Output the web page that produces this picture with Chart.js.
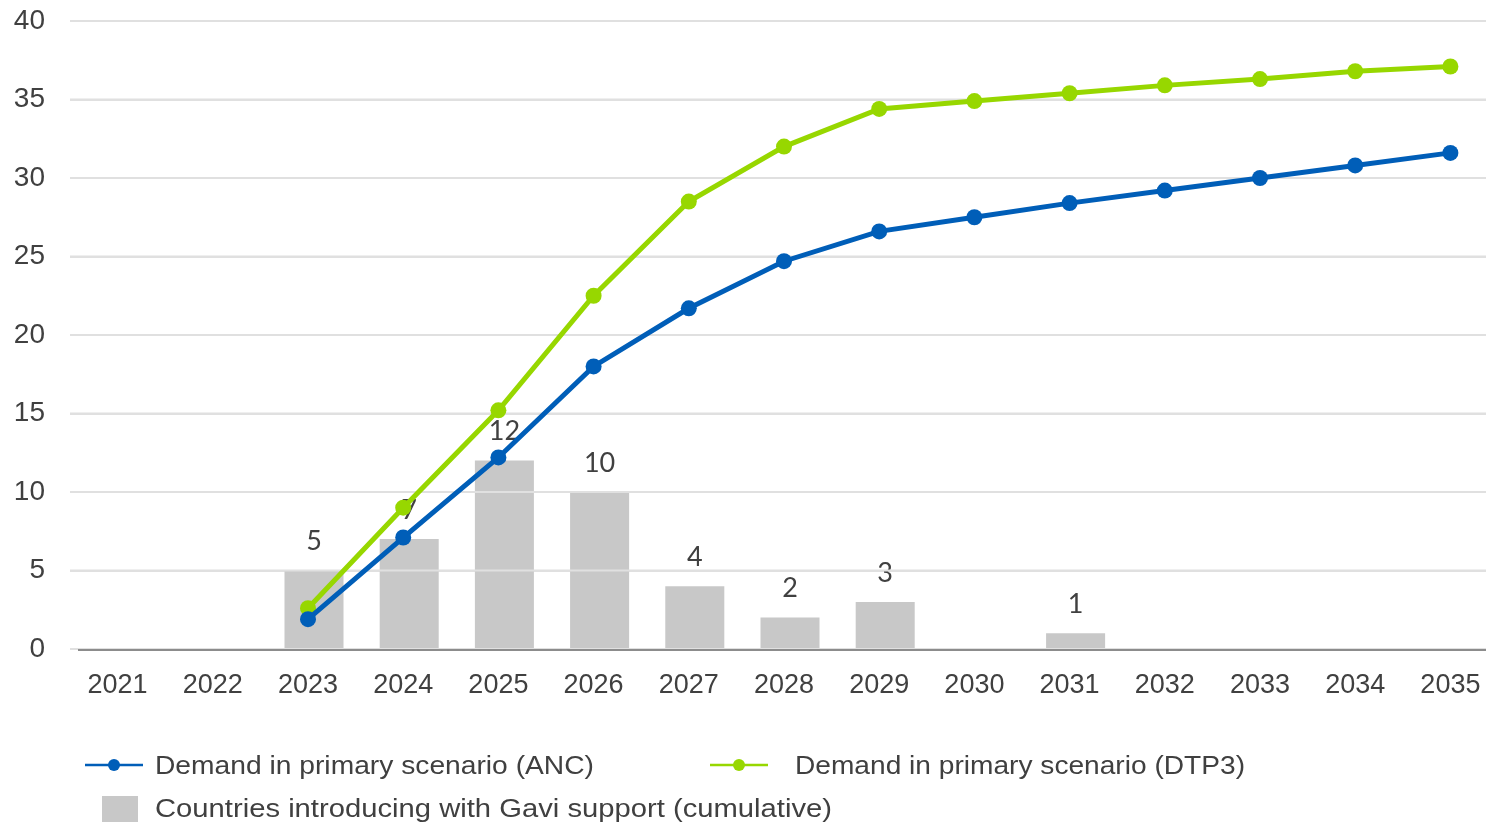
<!DOCTYPE html>
<html>
<head>
<meta charset="utf-8">
<script src="https://cdn.jsdelivr.net/npm/chart.js@4.4.1/dist/chart.umd.min.js"></script>
<style>
  html, body { margin: 0; padding: 0; background: #ffffff; overflow: hidden; }
  #wrap { width: 1486px; height: 828px; overflow: hidden; }
  canvas { display: block; }
</style>
</head>
<body>
<div id="wrap"><canvas id="c" width="1512" height="828"></canvas></div>
<script>
// Years on the horizontal axis
const years = ['2021', '2022', '2023', '2024', '2025', '2026', '2027', '2028',
               '2029', '2030', '2031', '2032', '2033', '2034', '2035'];

// Demand in primary scenario (ANC)
const demandANC = [null, null, 1.9, 7.1, 12.2, 18.0, 21.7, 24.7,
                   26.6, 27.5, 28.4, 29.2, 30.0, 30.8, 31.6];

// Demand in primary scenario (DTP3)
const demandDTP3 = [null, null, 2.6, 9.0, 15.2, 22.5, 28.5, 32.0,
                    34.4, 34.9, 35.4, 35.9, 36.3, 36.8, 37.1];

// Countries introducing with Gavi support (cumulative)
const countries = [null, null, 5, 7, 12, 10, 4, 2, 3, null, 1, null, null, null, null];

// Value axis ticks
const yTicks = [0, 5, 10, 15, 20, 25, 30, 35, 40];

const BLUE = '#005EB8';
const GREEN = '#97D700';
const GREY_BAR = '#C8C8C8';
const GRID = '#E0E0E0';
const TEXT = '#404040';
const BAR_INDEX = 2;
const BAR_SHIFT = 6;   // bars sit slightly right of the year slots

// Shifts the bar layer, writes the value above each bar,
// then lays the horizontal gridlines back over the bars
const barLayer = {
  id: 'barLayer',
  beforeDatasetDraw(chart, args) {
    if (args.index !== BAR_INDEX) return;
    chart.ctx.save();
    chart.ctx.translate(BAR_SHIFT, 0);
  },
  afterDatasetDraw(chart, args) {
    if (args.index !== BAR_INDEX) return;
    const ctx = chart.ctx;
    ctx.save();
    ctx.font = '27px Lato, "Open Sans", sans-serif';
    ctx.fillStyle = TEXT;
    ctx.textAlign = 'center';
    ctx.textBaseline = 'middle';
    args.meta.data.forEach((el, i) => {
      const v = countries[i];
      if (v === null || v === undefined) return;
      ctx.fillText(String(v), el.x, el.y - 29);
    });
    ctx.restore();
    ctx.restore();

    const { left, right } = chart.chartArea;
    const yScale = chart.scales.y;
    ctx.save();
    ctx.strokeStyle = GRID;
    ctx.lineWidth = 2;
    yTicks.forEach(v => {
      if (v === 0) return;
      const y = yScale.getPixelForValue(v);
      ctx.beginPath();
      ctx.moveTo(left, y);
      ctx.lineTo(right, y);
      ctx.stroke();
    });
    ctx.restore();
  }
};

const axisLine = {
  id: 'axisLine',
  beforeDatasetsDraw(chart) {
    const ctx = chart.ctx;
    const y = chart.scales.y.getPixelForValue(0);
    ctx.save();
    ctx.strokeStyle = '#8C8C8C';
    ctx.lineWidth = 2;
    ctx.beginPath();
    ctx.moveTo(chart.chartArea.left + 8, y + 1);
    ctx.lineTo(chart.chartArea.right + 20, y + 1);
    ctx.stroke();
    ctx.restore();
  }
};

const customLegend = {
  id: 'customLegend',
  afterDraw(chart) {
    const ctx = chart.ctx;
    const ds = chart.data.datasets;
    ctx.save();
    ctx.font = '26px "Liberation Sans", Arial, sans-serif';
    ctx.textBaseline = 'middle';
    ctx.textAlign = 'left';

    const text = (label, x, y, width) => {
      const w = ctx.measureText(label).width;
      ctx.save();
      ctx.translate(x, y);
      ctx.scale(width / w, 1);
      ctx.fillStyle = TEXT;
      ctx.fillText(label, 0, 0);
      ctx.restore();
    };

    const lineItem = (x0, x1, y, color) => {
      ctx.strokeStyle = color;
      ctx.lineWidth = 2.5;
      ctx.beginPath();
      ctx.moveTo(x0, y);
      ctx.lineTo(x1, y);
      ctx.stroke();
      ctx.fillStyle = color;
      ctx.beginPath();
      ctx.arc((x0 + x1) / 2, y, 6, 0, Math.PI * 2);
      ctx.fill();
    };

    lineItem(85, 143, 765, ds[0].borderColor);
    text(ds[0].label, 155, 767, 439);
    lineItem(710, 768, 765, ds[1].borderColor);
    text(ds[1].label, 795, 767, 450);

    ctx.fillStyle = ds[2].backgroundColor;
    ctx.fillRect(102, 796, 36, 26);
    text(ds[2].label, 155, 810, 677);
    ctx.restore();
  }
};

new Chart(document.getElementById('c'), {
  data: {
    labels: years,
    datasets: [
      {
        type: 'line',
        label: 'Demand in primary scenario (ANC)',
        data: demandANC,
        borderColor: BLUE,
        backgroundColor: BLUE,
        borderWidth: 5,
        pointRadius: 8,
        pointHoverRadius: 8,
        pointBorderWidth: 0,
        pointBackgroundColor: BLUE,
        tension: 0,
        order: 1
      },
      {
        type: 'line',
        label: 'Demand in primary scenario (DTP3)',
        data: demandDTP3,
        borderColor: GREEN,
        backgroundColor: GREEN,
        borderWidth: 5,
        pointRadius: 8,
        pointHoverRadius: 8,
        pointBorderWidth: 0,
        pointBackgroundColor: GREEN,
        tension: 0,
        order: 2
      },
      {
        type: 'bar',
        label: 'Countries introducing with Gavi support (cumulative)',
        data: countries,
        backgroundColor: GREY_BAR,
        borderWidth: 0,
        barPercentage: 0.62,
        categoryPercentage: 1.0,
        order: 3
      }
    ]
  },
  options: {
    responsive: false,
    animation: false,
    events: [],
    layout: { padding: { top: 21, right: 14, bottom: 0, left: 0 } },
    plugins: {
      legend: { display: false },
      tooltip: { enabled: false }
    },
    scales: {
      x: {
        type: 'category',
        position: 'bottom',
        offset: true,
        grid: { display: false, drawTicks: false },
        border: { display: false },
        ticks: {
          color: TEXT,
          font: { family: '"Liberation Sans", Arial, sans-serif', size: 27 },
          padding: 20,
          maxRotation: 0,
          autoSkip: false
        },
        afterFit(scale) { scale.height = 179; }
      },
      y: {
        min: 0,
        max: 40,
        afterBuildTicks(scale) { scale.ticks = yTicks.map(v => ({ value: v })); },
        grid: { color: GRID, lineWidth: 2, drawTicks: true, tickLength: 25, tickColor: 'rgba(0,0,0,0)' },
        border: { display: false },
        ticks: {
          color: TEXT,
          font: { family: '"Liberation Sans", Arial, sans-serif', size: 28 },
          padding: 0
        },
        afterFit(scale) { scale.width = 70; }
      }
    }
  },
  plugins: [axisLine, barLayer, customLegend]
});
</script>
</body>
</html>
